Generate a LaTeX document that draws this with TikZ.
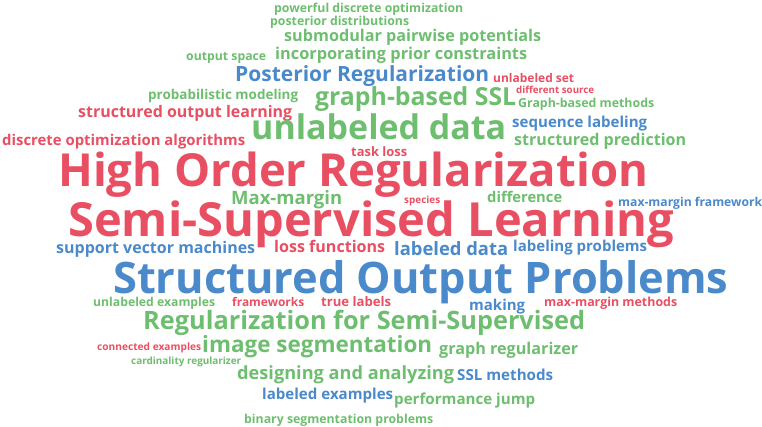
\documentclass[tikz,border=0pt]{standalone}
\usepackage{fontspec}
\setmainfont{Open Sans}
\usepackage{graphicx}
\usepackage{xcolor}
\definecolor{cloudred}{HTML}{E94F62}
\definecolor{cloudgreen}{HTML}{6DBE6E}
\definecolor{cloudblue}{HTML}{4A89CA}

\begin{document}
\begin{tikzpicture}[x=1pt,y=-1pt]
    \tikzstyle{word}=[anchor=base west,inner sep=0pt,font=\bfseries]
    \tikzstyle{red word}=[word, text=cloudred]
    \tikzstyle{green word}=[word, text=cloudgreen]
    \tikzstyle{blue word}=[word, text=cloudblue]

    \useasboundingbox (0,0) rectangle (762,427);

    % Draw the red words
    \foreach \x/\y/\w/\txt [count=\i] in {
        493/83/81/unlabeled set,
        516/94/78/different source,
        78/118/214/structured output learning,
        2/145.7/243/discrete optimization algorithms,
        351/157/56/task loss,
        58/187/590/High Order Regularization,
        404/204/36/species,
        68/237/606/Semi-Supervised Learning,
        274/253/111/loss functions,
        232/306.7/72/frameworks,
        321/306.7/70/true labels,
        544/307/133/max-margin methods,
        97/350.7/104/connected examples}
        \node[red word] (R-\i) at (\x,\y) {\resizebox{\w pt}{!}{\txt}};

    % Draw the green words
    \foreach \x/\y/\w/\txt [count=\i] in {
        274/12.7/189/powerful discrete optimization,
        270/26/139/posterior distributions,
        284/42/257/submodular pairwise potentials,
        186/61/80/output space,
        275/59.5/252/incorporating prior constraints,
        148/99.5/150/probabilistic modeling,
        315/106/201/graph-based SSL,
        518/108/136/Graph-based methods,
        251/140/255/unlabeled data,
        514/146/172/structured prediction,
        231/205/111/Max-margin,
        487/203/75/difference,
        93/306.7/122/unlabeled examples,
        143/329/442/Regularization for Semi-Supervised,
        202/352/230/image segmentation,
        439/354/139/graph regularizer,
        131/364/110/cardinality regularizer,
        237/379/217/designing and analyzing,
        394/404.7/141/performance jump,
        244/423/189/binary segmentation problems}
        \node[green word] (G-\i) at (\x,\y) {\resizebox{\w pt}{!}{\txt}};

    % Draw the blue words
    \foreach \x/\y/\w/\txt [count=\i] in {
        235/82/254/Posterior Regularization,
        512/128/135/sequence labeling,
        618/207/144/max-margin framework,
        56/254/199/support vector machines,
        394/255.7/114/labeled data,
        513/252/134/labeling problems,
        113/294/615/Structured Output Problems,
        469/310.7/56/making,
        457/380/96/SSL methods,
        262/399.7/131/labeled examples}
        \node[blue word] (B-\i) at (\x,\y) {\resizebox{\w pt}{!}{\txt}};
\end{tikzpicture}
\end{document}
